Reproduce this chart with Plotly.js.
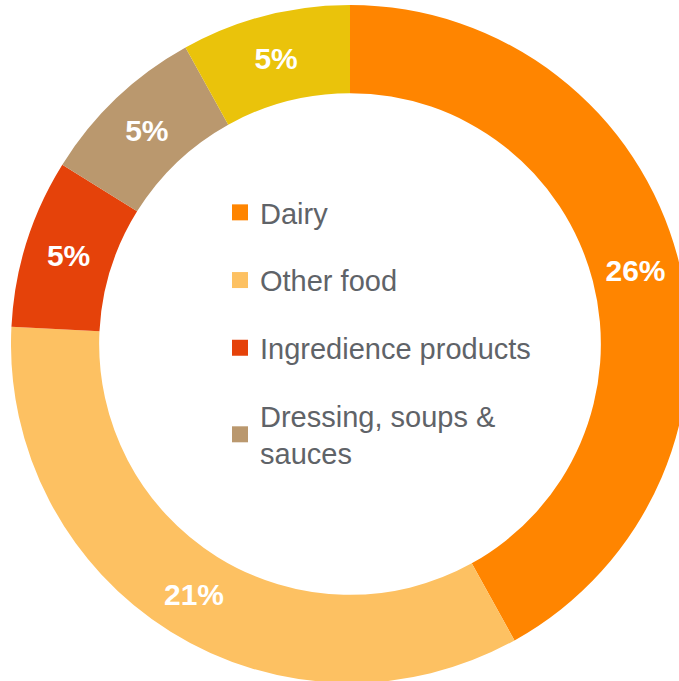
<!DOCTYPE html>
<html>
<head>
<meta charset="utf-8">
<script src="https://cdn.plot.ly/plotly-3.0.1.min.js"></script>
<style>
html, body { margin: 0; padding: 0; overflow: hidden; background: #fff; width: 679px; height: 681px; }
#chart { position: absolute; left: 11px; top: 5px; width: 678px; height: 678px; }
</style>
</head>
<body>
<div id="chart"></div>
<script>
// Data
const categories = ["Dairy", "Other food", "Ingredience products", "Dressing, soups & sauces", "Other"];
const legendLabels = ["Dairy", "Other food", "Ingredience products", "Dressing, soups &<br>sauces"];
const shares = [26, 21, 5, 5, 5];
const colors = ["#FF8500", "#FDC162", "#E5420A", "#BA986E", "#EAC30B"];

const traces = [{
  type: "pie",
  labels: categories,
  values: shares,
  sort: false,
  direction: "clockwise",
  rotation: 0,
  hole: 0.74,
  showlegend: false,
  marker: { colors: colors, line: { width: 0 } },
  texttemplate: "%{value}%",
  textposition: "inside",
  insidetextorientation: "horizontal",
  textfont: { family: "Liberation Sans, Arial, sans-serif", size: 30, color: "#ffffff", weight: "bold" },
  domain: { x: [0, 1], y: [0, 1] },
  hoverinfo: "label+value"
}];

legendLabels.forEach((name, i) => {
  traces.push({
    type: "scatter",
    mode: "markers",
    x: [null], y: [null],
    name: name,
    legendgroup: "g" + i,
    showlegend: true,
    marker: { symbol: "square", size: 16, color: colors[i] },
    hoverinfo: "skip"
  });
});

const layout = {
  width: 678, height: 678,
  margin: { l: 0, r: 0, t: 0, b: 0 },
  paper_bgcolor: "rgba(0,0,0,0)",
  plot_bgcolor: "rgba(0,0,0,0)",
  xaxis: { visible: false },
  yaxis: { visible: false },
  showlegend: true,
  legend: {
    x: (220 - 11) / 678, xanchor: "left",
    y: 1 - (187 - 5) / 678, yanchor: "top",
    tracegroupgap: 27,
    bgcolor: "rgba(0,0,0,0)",
    font: { family: "Liberation Sans, Arial, sans-serif", size: 29, color: "#5F6368" },
    itemclick: false, itemdoubleclick: false
  }
};

Plotly.newPlot("chart", traces, layout, { staticPlot: true, displayModeBar: false });
</script>
</body>
</html>
